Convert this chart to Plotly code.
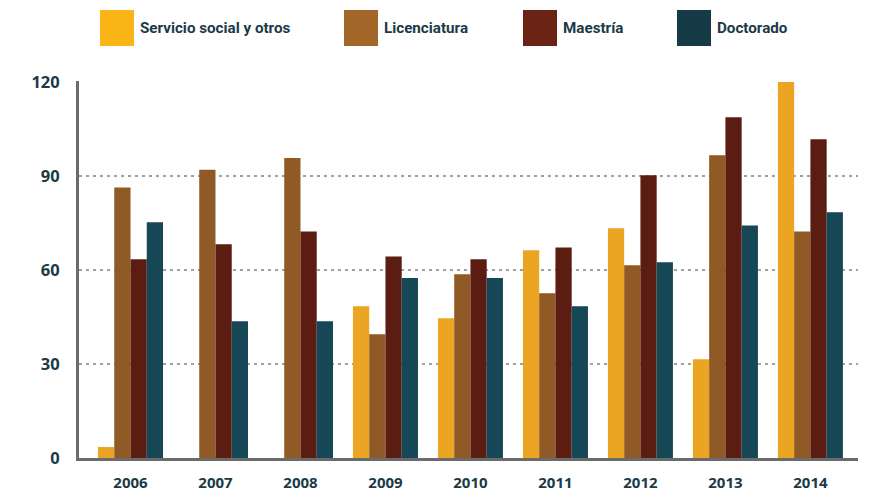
import plotly.graph_objects as go

years = ["2006", "2007", "2008", "2009", "2010", "2011", "2012", "2013", "2014"]
servicio = [3.5, 0, 0, 48.4, 44.6, 66.3, 73.3, 31.5, 120]
licenciatura = [86.3, 92, 95.7, 39.5, 58.6, 52.6, 61.5, 96.6, 72.3]
maestria = [63.4, 68.2, 72.3, 64.3, 63.4, 67.2, 90.2, 108.7, 101.7]
doctorado = [75.2, 43.6, 43.6, 57.4, 57.4, 48.4, 62.5, 74.2, 78.4]

series = [
    ("Servicio social y otros", servicio, "#EBA523", "#FBB416"),
    ("Licenciatura", licenciatura, "#8F5A25", "#A3672A"),
    ("Maestría", maestria, "#5B1C12", "#6B2314"),
    ("Doctorado", doctorado, "#164756", "#163A46"),
]

text_color = "#1B3A47"

fig = go.Figure()
for name, vals, color, _ in series:
    fig.add_trace(go.Bar(
        x=years, y=vals, name=name, marker=dict(color=color, line=dict(width=0)),
        showlegend=False,
    ))

# Custom legend row along the top
legend_x = [100, 344, 523, 677]
for (name, _, _, swatch), x0 in zip(series, legend_x):
    fig.add_shape(type="rect", xref="paper", yref="paper",
                  x0=(x0 - 79) / 779, x1=(x0 + 34 - 79) / 779,
                  y0=(458 - 46) / 377, y1=(458 - 10) / 377,
                  fillcolor=swatch, line=dict(width=0))
    fig.add_annotation(xref="paper", yref="paper",
                       x=(x0 + 38 - 79) / 779, y=(458 - 28) / 377,
                       text=name, showarrow=False,
                       xanchor="left", yanchor="middle",
                       font=dict(family="Roboto, sans-serif",
                                 size=15.2, weight="bold", color=text_color))

fig.update_layout(
    width=869, height=493,
    margin=dict(l=79, r=11, t=81, b=35),
    paper_bgcolor="white", plot_bgcolor="white",
    barmode="group", bargap=0.235, bargroupgap=0,
    font=dict(family="Open Sans, sans-serif", color=text_color),
)
fig.update_xaxes(
    range=[-0.606, 8.56], showgrid=False, automargin=False,
    showline=True, linewidth=3, linecolor="#6B6B6B",
    tickfont=dict(size=15, color=text_color, family="Open Sans", weight="bold"),
    ticks="", ticklabelstandoff=9,
)
fig.update_yaxes(
    range=[0, 120.3], tickvals=[0, 30, 60, 90, 120], automargin=False,
    showgrid=True, gridcolor="#A0A0A0", gridwidth=2, griddash="3px,4px",
    showline=True, linewidth=3, linecolor="#6B6B6B", zeroline=False,
    tickfont=dict(size=16.5, color=text_color, family="Open Sans", weight="bold"),
    ticks="", ticklabelstandoff=13,
)

fig.write_html("out.html")
